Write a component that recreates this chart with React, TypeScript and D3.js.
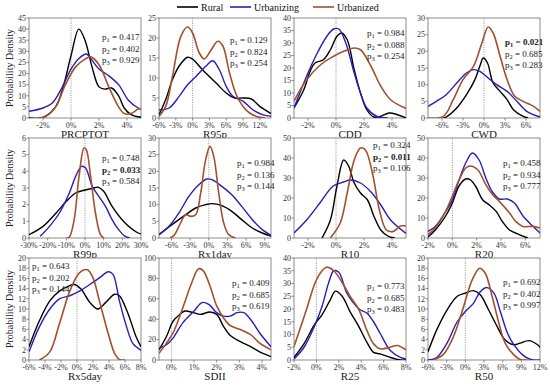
import React from "react";
import * as d3 from "d3";

type Pt = [number, number];

// ---------- data ----------
const seriesNames = ["Rural", "Urbanizing", "Urbanized"];
const panelNames = ["PRCPTOT", "R95p", "CDD", "CWD", "R99p", "Rx1day", "R10", "R20", "Rx5day", "SDII", "R25", "R50"];

const PRCPTOT_rural: Pt[] = [[-3,0],[-2,0.3],[-1.1,5],[-0.6,13],[0,28],[0.56,40],[1,35],[1.5,23],[2,14],[2.4,13],[2.9,13.5],[3.4,10],[3.8,4.5],[4.3,1.5],[5,0.3]];
const PRCPTOT_urbanizing: Pt[] = [[-3,3],[-2,4.5],[-1.3,7],[-0.7,13],[0,22],[0.6,27],[1.1,28.8],[1.5,26],[2,22],[2.7,19],[3.4,15],[4.1,8],[4.8,4.5],[5,4]];
const PRCPTOT_urbanized: Pt[] = [[-2.4,0],[-1.8,0.7],[-1.1,5],[-0.4,15],[0.33,23],[1,26.5],[1.4,27.5],[2,24],[2.7,14],[3.4,5],[3.8,2],[4.3,2],[4.8,4],[5,4.3]];

const R95p_rural: Pt[] = [[-6,0.8],[-4.8,4.6],[-3.6,9.6],[-2.4,13],[-0.9,15.2],[0,14.7],[1.8,12],[4.2,8.75],[6,6.25],[7.5,5],[9,5],[10.5,4.75],[12,2.9],[14,1.1]];
const R95p_urbanizing: Pt[] = [[-6,2],[-4.2,2.5],[-2.4,5.4],[-0.9,8.3],[0.6,10.4],[2.4,13],[3.6,14.3],[4.8,12],[6,7.9],[7.2,5.4],[9,4.2],[10.8,2],[12.6,0.8],[14,0.4]];
const R95p_urbanized: Pt[] = [[-6,0.4],[-4.8,2.9],[-3.6,10.4],[-2.1,20.4],[-0.9,22.75],[0,21.25],[1.2,16.25],[2.1,14.75],[3.3,17],[4.5,19.2],[5.4,18],[6.6,11.25],[7.8,5.8],[9,2.9],[10.2,1.25],[11.4,0.4],[13,0]];

const CDD_rural: Pt[] = [[-3,4],[-2.3,11.3],[-1.85,18.7],[-1.5,22],[-0.9,23.3],[-0.4,27.3],[0.07,32.7],[0.4,34],[0.8,31.3],[1.3,19.3],[1.75,10],[2.2,3.3],[2.7,0.4],[3.2,0.7],[3.8,2],[4.4,1.3],[5,0]];
const CDD_urbanizing: Pt[] = [[-3,4],[-2.1,16.7],[-1.4,25.3],[-0.65,32.7],[-0.17,35.6],[0.2,35.6],[0.7,30],[1.3,18],[1.75,10],[2.2,4],[2.9,0.7],[3.7,0]];
const CDD_urbanized: Pt[] = [[-3,6.7],[-2.1,15.3],[-1.1,21.3],[-0.17,24.7],[0.55,26.7],[1.3,28],[1.75,27.3],[2.5,20.7],[3.2,12.7],[3.9,7.3],[5,3.8]];

const CWD_rural: Pt[] = [[-5.8,0],[-5.4,0.3],[-3.9,3],[-2.5,7],[-1.3,11.5],[-0.6,15.5],[-0.1,18],[0.5,16.5],[1.3,10.5],[2.3,8],[3.3,5.5],[4.2,2.5],[5.6,0.5],[6.3,0]];
const CWD_urbanizing: Pt[] = [[-8,3.5],[-6.8,5],[-5.4,7],[-3.9,10.5],[-2.5,13.5],[-1.5,14.5],[-0.6,14],[0.9,11.5],[1.8,10],[3.3,8],[4.7,5],[6.1,2],[8,0.3]];
const CWD_urbanized: Pt[] = [[-8,0],[-5.8,0.5],[-4.4,5.5],[-3,11.5],[-1.5,15.5],[-0.3,22.5],[0.6,27.3],[1.3,25.5],[2.3,18.5],[3.3,11.5],[4.4,6.5],[5.6,5],[7.1,3.5],[8,2]];

const R99p_rural: Pt[] = [[-30,0.2],[-22.5,0.7],[-15.5,1.5],[-10,2.2],[-5,2.7],[0,2.88],[4,2.98],[7,3.05],[10,2.8],[14.5,1.9],[21.5,0.9],[28.5,0.3],[30,0.25]];
const R99p_urbanizing: Pt[] = [[-24,0.1],[-19,0.7],[-13.7,1.5],[-8.4,2.7],[-5,3.7],[-1.8,4.3],[0.3,4.2],[3.9,3.1],[7.4,2.5],[11,1.9],[14.5,1.1],[18,0.5],[21.5,0.1],[24,0]];
const R99p_urbanized: Pt[] = [[-10,0],[-8.4,0.05],[-5.8,1.1],[-3.2,3.7],[-0.5,5.4],[0.7,5.3],[3,3.7],[5.6,1.5],[8.3,0.2],[10,0]];

const Rx1day_rural: Pt[] = [[-8,1],[-5.9,4],[-3.7,7],[-2.1,9],[-0.5,10],[0.5,10.3],[2.1,9.7],[3.7,8],[5.3,5.5],[7,3],[8.6,1.5],[10,0.6]];
const Rx1day_urbanizing: Pt[] = [[-8,1],[-6.4,3.5],[-4.8,7.5],[-3.2,12.5],[-1.6,16],[-0.3,17.7],[0.5,17.5],[2.1,15.5],[3.7,13],[5.3,9.5],[7,5.5],[8.6,2.5],[10,0.8]];
const Rx1day_urbanized: Pt[] = [[-6.2,0],[-5.5,1],[-4.8,3.5],[-3.7,7],[-2.9,6.5],[-2.1,7],[-1.3,13.5],[-0.5,23.5],[0.2,27.5],[0.8,24.5],[1.6,13.5],[2.4,4.5],[3.2,1],[4.3,0]];

const R10_rural: Pt[] = [[-1,0],[-0.4,9],[0.07,26],[0.55,39],[0.9,36],[1.3,27.5],[1.75,22.5],[2.25,19],[2.7,11],[3.2,4],[3.7,1],[4.2,0]];
const R10_urbanizing: Pt[] = [[-3,2.5],[-2.1,9],[-1.1,18],[-0.2,26],[0.55,28],[1.0,29],[1.75,27.5],[2.5,23],[3.2,16.5],[3.9,9],[5,2.3]];
const R10_urbanized: Pt[] = [[-0.4,0],[0.3,7.5],[0.8,22.5],[1.3,39],[1.75,45],[2.1,44],[2.6,32.5],[3.1,14],[3.6,4],[4.1,3.3],[4.6,6],[5,6]];

const R20_rural: Pt[] = [[-2,0.5],[-1.4,4],[-0.55,11],[0,17.5],[0.55,26],[1.1,29.5],[1.5,29],[1.9,26],[2.5,19],[3,16.7],[3.6,13.3],[4.1,8.3],[4.7,4],[5.5,1.7],[6.2,0]];
const R20_urbanizing: Pt[] = [[-2,3.3],[-1.4,5.8],[-0.7,11.7],[0,19],[0.55,29],[1.1,37.5],[1.65,42.5],[2.2,39],[2.75,30],[3.3,23],[3.85,19.5],[4.5,19.5],[5.1,17.5],[5.8,11],[6.6,6],[7.2,2.5]];
const R20_urbanized: Pt[] = [[-2,1.7],[-1.4,5],[-0.55,13.3],[0,21],[0.55,29],[1.1,35],[1.5,36],[2.1,34],[2.75,26.7],[3.3,21.7],[3.85,18.3],[4.7,12.5],[5.2,8.3],[5.8,5.8],[6.6,5.8],[7.2,5]];

const Rx5day_rural: Pt[] = [[-6,2.6],[-4.7,7.7],[-3.4,11.6],[-2.2,13.5],[-0.9,14.6],[-0.3,14.8],[0.5,13.9],[1.6,11.3],[2.6,10],[3.6,11.3],[4.7,12.9],[5.3,12.6],[6.3,9.4],[7.4,4.5],[8,2.6]];
const Rx5day_urbanizing: Pt[] = [[-6,1.6],[-4.7,6.5],[-3.4,10],[-2.2,12],[-0.9,12.6],[0.3,13.5],[1.6,14.8],[2.8,16.1],[3.9,17.3],[4.5,16.8],[5.3,11.6],[6.2,6.5],[7,3.2],[8,1.9]];
const Rx5day_urbanized: Pt[] = [[-4.7,0],[-3.4,1.6],[-2.2,7.1],[-0.9,13.5],[0.3,17.1],[1.3,17.7],[2,16.1],[2.8,11.6],[3.9,5.2],[4.7,1.3],[5.3,0.1],[6,0]];

const SDII_rural: Pt[] = [[-0.55,10],[-0.22,23],[0.07,38],[0.37,44.7],[0.6,48],[0.97,46.4],[1.27,44.7],[1.7,47],[2.0,44.7],[2.3,33],[2.6,24],[3.05,18],[3.5,13],[3.9,8],[4.4,3.3]];
const SDII_urbanizing: Pt[] = [[-0.55,11.6],[-0.22,15],[0.07,21.5],[0.5,36.4],[1,48],[1.35,56.3],[1.65,54.6],[2,46.4],[2.3,43],[2.6,43],[2.9,46.4],[3.2,46.4],[3.5,39.7],[3.9,26.5],[4.4,13]];
const SDII_urbanized: Pt[] = [[-0.55,6.6],[-0.22,16.5],[0.07,26.5],[0.5,51],[0.9,76],[1.2,89.4],[1.4,87.7],[1.7,72.8],[2.0,53],[2.3,41.4],[2.6,33.8],[3.05,29.8],[3.5,24.8],[3.9,16.5],[4.4,10]];

const R25_rural: Pt[] = [[-2,1],[-1.1,6.4],[-0.2,13.7],[0.5,17.7],[1.25,23.7],[1.7,27],[2.3,25],[3.0,19],[3.8,13],[4.5,7],[5.1,3],[5.7,2.4],[6.6,1],[7.5,0],[8,0]];
const R25_urbanizing: Pt[] = [[-2,0.4],[-1.1,5],[-0.2,13],[0.5,21],[1.1,30.4],[1.55,35],[2,34.4],[2.7,26.4],[3.3,22.4],[3.9,19.7],[4.5,18.4],[5.1,15],[5.7,10.4],[6.6,3.7],[7.5,1],[8,0.4]];
const R25_urbanized: Pt[] = [[-2,5.3],[-1.4,13],[-0.8,21],[-0.1,30.4],[0.5,35],[0.9,36.4],[1.55,35],[2.3,30.4],[3.0,25],[3.8,19.7],[4.5,11.7],[5.1,6.4],[5.7,4.4],[6.6,5],[7.2,5.7],[8,4]];

const R50_rural: Pt[] = [[-6,1.6],[-4.6,5.9],[-2.95,9.8],[-1.3,12.5],[0,13.1],[1.3,13.6],[2.4,12.8],[3.75,9.8],[5.1,6.6],[6.4,3.9],[7.8,3],[8.8,3.3],[10.2,3.8],[11.6,3],[12,2.5]];
const R50_urbanizing: Pt[] = [[-6,0],[-4.6,0.5],[-2.95,3.3],[-1.3,7.5],[0,9.5],[1.3,11.1],[2.4,13.4],[3.5,14.2],[4.6,13.1],[5.7,9.2],[6.8,5.2],[7.8,3],[9.2,1],[10.5,0.1],[12,0]];
const R50_urbanized: Pt[] = [[-5.2,0],[-3.6,1],[-1.9,4.6],[-0.27,10.5],[1.1,15.7],[2.3,18],[3.2,17],[4.3,12.5],[5.4,7.2],[6.4,3.3],[7.8,1],[8.8,0.1],[10,0]];

const panelSeries: Pt[][][] = [
  [PRCPTOT_rural, PRCPTOT_urbanizing, PRCPTOT_urbanized],
  [R95p_rural, R95p_urbanizing, R95p_urbanized],
  [CDD_rural, CDD_urbanizing, CDD_urbanized],
  [CWD_rural, CWD_urbanizing, CWD_urbanized],
  [R99p_rural, R99p_urbanizing, R99p_urbanized],
  [Rx1day_rural, Rx1day_urbanizing, Rx1day_urbanized],
  [R10_rural, R10_urbanizing, R10_urbanized],
  [R20_rural, R20_urbanizing, R20_urbanized],
  [Rx5day_rural, Rx5day_urbanizing, Rx5day_urbanized],
  [SDII_rural, SDII_urbanizing, SDII_urbanized],
  [R25_rural, R25_urbanizing, R25_urbanized],
  [R50_rural, R50_urbanizing, R50_urbanized],
];

const xDomains: [number, number][] = [[-3,5],[-6,14],[-3,5],[-8,8],[-30,30],[-8,10],[-3,5],[-2,7.2],[-6,8],[-0.55,4.4],[-2,8],[-6,12]];
const xTickValues: number[][] = [
  [-2,0,2,4],[-6,-3,0,3,6,9,12],[-2,0,2,4],[-6,-3,0,3,6],
  [-30,-20,-10,0,10,20,30],[-6,-3,0,3,6,9],[-2,0,2,4],[-2,0,2,4,6],
  [-6,-4,-2,0,2,4,6,8],[0,1,2,3,4],[-2,0,2,4,6,8],[-6,-3,0,3,6,9,12],
];
const yMaxes = [45,25,40,30,6,30,50,50,20,100,40,20];
const ySteps = [5,5,5,5,1,5,10,10,2,20,5,2];

const pValues: string[][] = [
  ["0.417","0.402","0.929"],["0.129","0.824","0.254"],["0.984","0.088","0.254"],["0.021","0.685","0.283"],
  ["0.748","0.033","0.584"],["0.984","0.136","0.144"],["0.324","0.011","0.106"],["0.458","0.934","0.777"],
  ["0.643","0.202","0.144"],["0.409","0.685","0.619"],["0.773","0.685","0.483"],["0.692","0.402","0.997"],
];
const pBold: number[] = [-1,-1,-1,0,1,-1,1,-1,-1,-1,-1,-1];

// ---------- layout ----------
const colors = ["#000000", "#2A1DB8", "#A0522D"];
const colLefts = [29, 159, 294, 428];
const rowTops = [18, 138, 258];
const rowHeights = [100, 100, 102];
const plotW = 112;
const pOffsets: [number, number][] = [
  [73,22],[71,25],[73,18],[77,27],
  [73,23],[78,28],[79,10],[75,28],
  [3,11],[73,28],[73,31],[75,27],
];
const FONT = "'Liberation Serif','Times New Roman',serif";

function Panel({ i }: { i: number }) {
  const col = i % 4;
  const row = Math.floor(i / 4);
  const left = colLefts[col];
  const top = rowTops[row];
  const h = rowHeights[row];
  const x = d3.scaleLinear().domain(xDomains[i]).range([left, left + plotW]);
  const y = d3.scaleLinear().domain([0, yMaxes[i]]).range([top + h, top]);
  const yTicks = d3.range(0, yMaxes[i] + ySteps[i] / 2, ySteps[i]);
  const line = d3
    .line<Pt>()
    .x((d) => x(d[0]))
    .y((d) => y(d[1]))
    .curve(d3.curveCatmullRom.alpha(0.5));
  const clipId = `clip${i}`;
  const [pdx, pdy] = pOffsets[i];
  return (
    <g>
      <defs>
        <clipPath id={clipId}>
          <rect x={left} y={top} width={plotW} height={h} />
        </clipPath>
      </defs>
      <rect x={left} y={top} width={plotW} height={h} fill="white" stroke="#6e6e6e" strokeWidth={0.8} />
      {/* zero line */}
      <line x1={x(0)} x2={x(0)} y1={top} y2={top + h} stroke="#888" strokeWidth={0.8} strokeDasharray="1.2,1.2" />
      {/* y ticks */}
      {yTicks.map((t) => (
        <g key={"y" + t}>
          <line x1={left - 2.5} x2={left} y1={y(t)} y2={y(t)} stroke="#6e6e6e" strokeWidth={0.8} />
          <text x={left - 3} y={y(t) + 2.8} fontSize={8} textAnchor="end" fill="#333" fontFamily={FONT}>
            {t}
          </text>
        </g>
      ))}
      {/* x ticks */}
      {xTickValues[i].map((t) => (
        <g key={"x" + t}>
          <line x1={x(t)} x2={x(t)} y1={top + h} y2={top + h + 2.5} stroke="#6e6e6e" strokeWidth={0.8} />
          <text x={x(t)} y={top + h + 9.5} fontSize={8} textAnchor="middle" fill="#333" fontFamily={FONT}>
            {`${t}%`}
          </text>
        </g>
      ))}
      <g clipPath={`url(#${clipId})`}>
        {panelSeries[i].map((s, k) => (
          <path key={k} d={line(s) || ""} fill="none" stroke={colors[k]} strokeWidth={k === 2 ? 1.6 : 1.4} />
        ))}
      </g>
      {/* p values */}
      {pValues[i].map((v, k) => (
        <text
          key={"p" + k}
          x={left + pdx}
          y={top + pdy + k * 11.5}
          fontSize={9}
          fontFamily={FONT}
          fill="#222"
          fontWeight={pBold[i] === k ? "bold" : "normal"}
        >
          p
          <tspan fontSize={6.5} dy={2}>{k + 1}</tspan>
          <tspan dy={-2}>{` = ${v}`}</tspan>
        </text>
      ))}
      {/* title */}
      <text x={left + plotW / 2} y={top + h + 20} fontSize={11} textAnchor="middle" fill="#222" fontFamily={FONT}>
        {panelNames[i]}
      </text>
    </g>
  );
}

export default function App() {
  const legendX = [177, 230, 313];
  return (
    <svg width={550} height={385} style={{ position: "absolute", left: 0, top: 0, background: "white" }}>
      <rect width={550} height={385} fill="white" />
      {seriesNames.map((n, k) => (
        <g key={n}>
          <line x1={legendX[k]} x2={legendX[k] + 21} y1={7} y2={7} stroke={colors[k]} strokeWidth={1.6} />
          <text x={legendX[k] + 24} y={10.5} fontSize={10} fontFamily={FONT} fill="#111">
            {n}
          </text>
        </g>
      ))}
      {rowTops.map((t, r) => (
        <text
          key={"yl" + r}
          transform={`translate(13,${t + rowHeights[r] / 2}) rotate(-90)`}
          fontSize={10}
          textAnchor="middle"
          fontFamily={FONT}
          fill="#222"
        >
          Probability Density
        </text>
      ))}
      {panelNames.map((_, i) => (
        <Panel key={i} i={i} />
      ))}
    </svg>
  );
}
